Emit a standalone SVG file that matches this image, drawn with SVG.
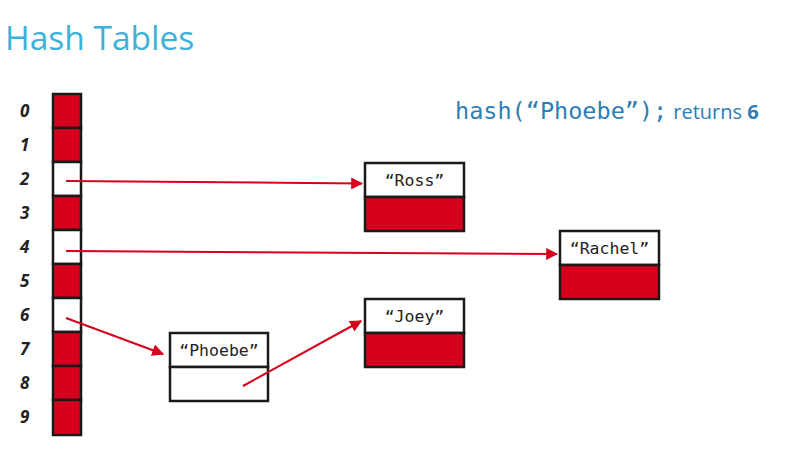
<svg xmlns="http://www.w3.org/2000/svg" width="785" height="449" viewBox="0 0 785 449">
<defs>
<style>
.title{font-family:"Open Sans","Liberation Sans",sans-serif;font-size:33.5px;fill:#3cb2d8;}
.idx{font-family:"Open Sans","Liberation Sans",sans-serif;font-size:17px;font-weight:bold;font-style:italic;fill:#222;}
.cell{stroke:#1a1a1a;stroke-width:2.5;}
.full{fill:#d6001c;}
.empty{fill:#ffffff;}
.box{stroke:#1a1a1a;stroke-width:2.5;}
.lbl{font-family:"DejaVu Sans Mono","Liberation Mono",monospace;font-size:16.5px;fill:#222;text-anchor:middle;}
.code{font-family:"DejaVu Sans Mono","Liberation Mono",monospace;font-size:23.5px;fill:#2f7db5;}
.note{font-family:"Open Sans","Liberation Sans",sans-serif;font-size:20px;fill:#2f7db5;}
.conn{stroke:#d6001c;stroke-width:2;fill:none;marker-end:url(#ah);}
</style>
<marker id="ah" viewBox="0 0 10 10" refX="9" refY="5" markerWidth="6" markerHeight="6" orient="auto">
<path d="M0,0 L10,5 L0,10 z" fill="#d6001c"/>
</marker>
</defs>
<rect width="785" height="449" fill="#ffffff"/>
<text class="title" x="5" y="50">Hash Tables</text>
<text x="455" y="119"><tspan class="code">hash(“Phoebe”);</tspan><tspan class="note" dx="6">returns </tspan><tspan class="note" font-weight="bold" font-size="21px">6</tspan></text>

<g id="array">
<rect class="cell full" x="53" y="94" width="28" height="34"/>
<rect class="cell full" x="53" y="128" width="28" height="34"/>
<rect class="cell empty" x="53" y="162" width="28" height="34"/>
<rect class="cell full" x="53" y="196" width="28" height="34"/>
<rect class="cell empty" x="53" y="230" width="28" height="34"/>
<rect class="cell full" x="53" y="264" width="28" height="34"/>
<rect class="cell empty" x="53" y="298" width="28" height="34"/>
<rect class="cell full" x="53" y="332" width="28" height="34"/>
<rect class="cell full" x="53" y="366" width="28" height="34"/>
<rect class="cell full" x="53" y="400" width="28" height="35"/>
<text class="idx" x="20" y="117">0</text>
<text class="idx" x="20" y="151">1</text>
<text class="idx" x="20" y="185">2</text>
<text class="idx" x="20" y="219">3</text>
<text class="idx" x="20" y="253">4</text>
<text class="idx" x="20" y="287">5</text>
<text class="idx" x="20" y="321">6</text>
<text class="idx" x="20" y="355">7</text>
<text class="idx" x="20" y="389">8</text>
<text class="idx" x="20" y="423">9</text>
</g>

<g id="ross">
<rect class="box empty" x="365" y="163" width="99" height="34"/>
<rect class="box full" x="365" y="197" width="99" height="34"/>
<text class="lbl" x="414.5" y="186">“Ross”</text>
</g>
<g id="rachel">
<rect class="box empty" x="560" y="231" width="99" height="34"/>
<rect class="box full" x="560" y="265" width="99" height="34"/>
<text class="lbl" x="609.5" y="254">“Rachel”</text>
</g>
<g id="joey">
<rect class="box empty" x="365" y="299" width="99" height="34"/>
<rect class="box full" x="365" y="333" width="99" height="34"/>
<text class="lbl" x="414.5" y="322">“Joey”</text>
</g>
<g id="phoebe">
<rect class="box empty" x="170" y="333" width="98" height="34"/>
<rect class="box empty" x="170" y="367" width="98" height="34"/>
<text class="lbl" x="219" y="356">“Phoebe”</text>
</g>

<g id="connectors">
<line class="conn" x1="66" y1="181" x2="362" y2="183.5"/>
<line class="conn" x1="66" y1="251" x2="557" y2="254"/>
<line class="conn" x1="66" y1="318" x2="163" y2="354"/>
<line class="conn" x1="243" y1="386" x2="361" y2="321"/>
</g>
</svg>
